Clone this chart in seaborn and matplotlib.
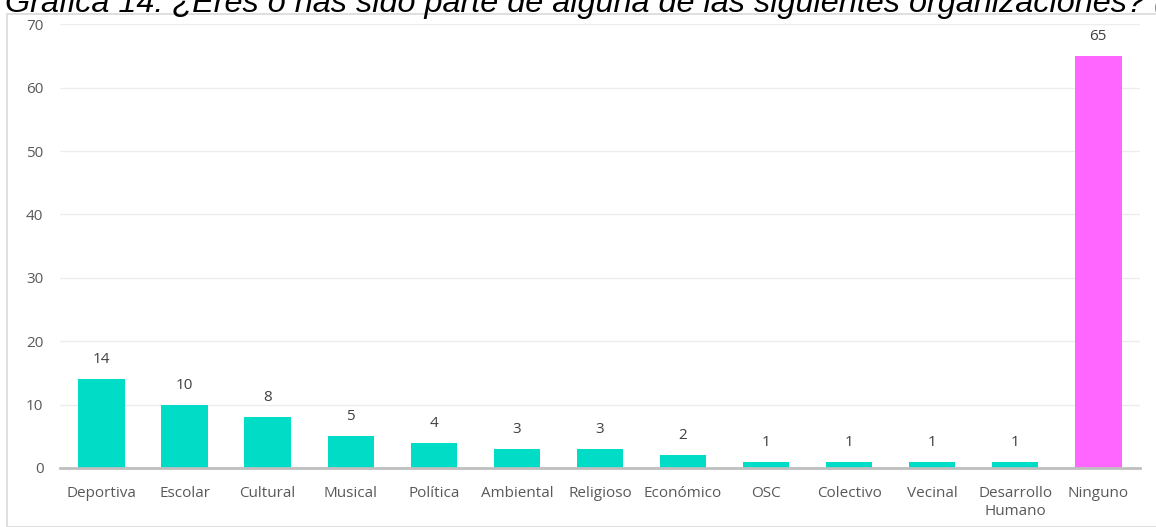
import matplotlib
matplotlib.use("Agg")
import matplotlib.pyplot as plt
import matplotlib.patches as mpatches
import seaborn as sns
import pandas as pd

categories = ["Deportiva", "Escolar", "Cultural", "Musical", "Política", "Ambiental",
              "Religioso", "Económico", "OSC", "Colectivo", "Vecinal",
              "Desarrollo\nHumano", "Ninguno"]
values = [14, 10, 8, 5, 4, 3, 3, 2, 1, 1, 1, 1, 65]
colors = ["#00DCC6"] * 12 + ["#FF66FF"]
yticks = [0, 10, 20, 30, 40, 50, 60, 70]
title = "Gráfica 14. ¿Eres o has sido parte de alguna de las siguientes organizaciones? (%)"

sns.set_theme(style="white")
plt.rcParams['font.family'] = ['Open Sans', 'DejaVu Sans']

df = pd.DataFrame({"cat": categories, "val": values})

fig = plt.figure(figsize=(11.56, 5.27), dpi=100)
ax = fig.add_axes([0.052, 0.112, 0.934, 0.842])

sns.barplot(data=df, x="cat", y="val", hue="cat", palette=colors, legend=False,
            width=0.56, ax=ax, saturation=1, linewidth=0)

ax.set_xlim(-0.5, len(categories) - 0.5)
ax.set_ylim(0, 70)
ax.set_yticks(yticks)
ax.set_xlabel("")
ax.set_ylabel("")
ax.grid(axis="y", color="#EDEDED", linewidth=1)
ax.set_axisbelow(True)
for s in ["top", "right", "left"]:
    ax.spines[s].set_visible(False)
ax.spines["bottom"].set_color("#BFBFBF")
ax.spines["bottom"].set_linewidth(2)
ax.tick_params(axis="both", length=0, labelsize=11, labelcolor="#595959")
ax.tick_params(axis="x", pad=13)
ax.tick_params(axis="y", pad=12)
for lbl in ax.get_xticklabels():
    lbl.set_linespacing(1.3)

for i, v in enumerate(values):
    ax.text(i, v + 1.9, str(v), ha="center", va="bottom", fontsize=11, color="#404040")

# chart frame
fig.patches.append(mpatches.Rectangle((7 / 1156, 0.0), 1.1, (527 - 14) / 527,
                                      transform=fig.transFigure, fill=False,
                                      edgecolor="#D9D9D9", linewidth=1.2))

fig.text(5 / 1156, 1.0 - 12 / 527, title, ha="left", va="baseline", fontsize=23.3, style="italic",
         family=["Liberation Sans", "DejaVu Sans"], color="#000000")

fig.savefig("out.png", dpi=100)
